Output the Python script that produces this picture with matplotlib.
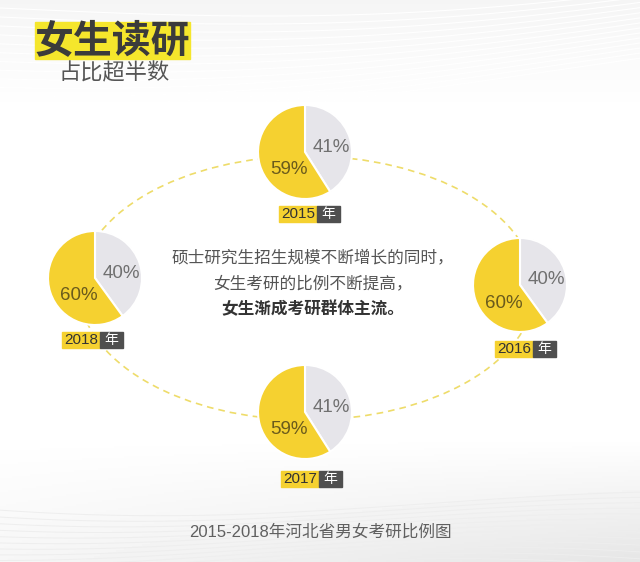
import numpy as np
import matplotlib.pyplot as plt
from matplotlib.patches import Ellipse, Rectangle

plt.rcParams['font.family'] = ['Noto Sans CJK SC', 'DejaVu Sans']
LATIN = ['Liberation Sans', 'Noto Sans CJK SC']

# data
years = ['2015', '2016', '2017', '2018']
female = [59, 60, 59, 60]
male = [41, 40, 41, 40]
title = '女生读研'
subtitle = '占比超半数'
note_lines = ['硕士研究生招生规模不断增长的同时，', '女生考研的比例不断提高，', '女生渐成考研群体主流。']
caption = '2015-2018年河北省男女考研比例图'

W, H = 640, 562
YELLOW = '#f5d130'
GRAY = '#e6e5ea'


def Y(py):
    return H - py


fig = plt.figure(figsize=(6.4, 5.62), dpi=100)
ax = fig.add_axes([0, 0, 1, 1])

# soft grey background at top and bottom
gx, gy = np.meshgrid(np.linspace(0, 1, 320), np.linspace(0, 1, 281))
shade = np.clip(1 - gy * 4.5, 0, 1) * (0.35 + 0.65 * gx) + np.clip((gy - 0.8) * 4, 0, 1) * 0.5
bg = 1 - 0.10 * shade
ax.imshow(bg, cmap='gray', vmin=0, vmax=1, extent=(0, W, H, 0), origin='upper', zorder=0)
xs = np.linspace(0, W, 200)
for k in range(14):
    ax.plot(xs, Y(8 + k * 7 + 25 * np.sin(xs / 260 + k * 0.08) - xs * 0.05), color='white', lw=0.8, zorder=1)
    ax.plot(xs, Y(495 + k * 6 + 18 * np.sin(xs / 200 + 1 + k * 0.1) + xs * 0.02), color='#eeeeee', lw=0.7, zorder=1)

# dashed ellipse connecting the pies
ax.add_patch(Ellipse((307, Y(288)), 456, 264, fill=False, ec='#eedc6a', lw=1.2, ls=(0, (4, 3)), zorder=2))

centers = {'2015': (305, 152), '2016': (520, 285), '2017': (305, 412), '2018': (95, 278)}
tags = {'2015': (279, 214), '2016': (495, 349), '2017': (281, 479), '2018': (62, 340)}

for yr, f, m in zip(years, female, male):
    cx, cy = centers[yr]
    wedges, _ = ax.pie([m, f], colors=[GRAY, YELLOW], startangle=90, counterclock=False,
                       center=(cx, Y(cy)), radius=47, frame=True,
                       wedgeprops=dict(edgecolor='white', linewidth=1.5))
    for w in wedges:
        w.set_zorder(3)
    ax.text(cx + 26, Y(cy - 5), f'{m}%', fontsize=13.5, family=LATIN, color='#707070',
            ha='center', va='center', zorder=4)
    ax.text(cx - 16, Y(cy + 18), f'{f}%', fontsize=13.5, family=LATIN, color='#6a5b1c',
            ha='center', va='center', zorder=4)
    tx, ty = tags[yr]
    ax.add_patch(Rectangle((tx, Y(ty + 8)), 38, 16, color=YELLOW, zorder=4))
    ax.add_patch(Rectangle((tx + 38, Y(ty + 8)), 23, 16, color='#4f4f4f', zorder=4))
    ax.text(tx + 19, Y(ty), yr, fontsize=11, family=LATIN, color='#333333', ha='center', va='center', zorder=5)
    ax.text(tx + 49.5, Y(ty), '年', fontsize=10, color='white', ha='center', va='center', zorder=5)

# title block
ax.add_patch(Rectangle((35, Y(59)), 155, 37, color='#f5e62c', zorder=4))
ax.text(112, Y(41), title, fontsize=28, fontweight='black', color='#3b3b3b', ha='center', va='center', zorder=5)
ax.text(114, Y(73), subtitle, fontsize=16, color='#555555', ha='center', va='center', zorder=5)

# central note
for i, line in enumerate(note_lines):
    bold = i == len(note_lines) - 1
    ax.text(313, Y(258 + i * 25.5), line, fontsize=12, ha='center', va='center',
            color='#333333' if bold else '#555555', fontweight='bold' if bold else 'normal', zorder=5)

ax.text(320, Y(532), caption, fontsize=12, family=LATIN, color='#606060', ha='center', va='center', zorder=5)

ax.set_xlim(0, W)
ax.set_ylim(0, H)
ax.set_aspect('auto')
ax.axis('off')
fig.savefig('out.png', dpi=100)
